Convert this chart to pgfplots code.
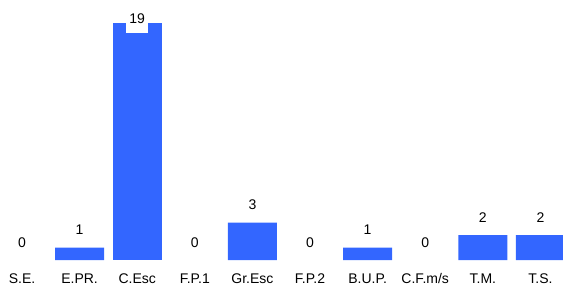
\documentclass[border=0pt]{standalone}
\usepackage{pgfplots}
\pgfplotsset{compat=1.18}
\usepackage{fontspec}
\setmainfont{Liberation Sans}
\definecolor{barblue}{HTML}{3366FF}
\begin{document}
\begin{tikzpicture}
\begin{axis}[
 scale only axis, width=563pt, height=285pt,
 xmin=-0.382, xmax=9.392, ymin=-2, ymax=20.8,
 axis line style={draw=none}, tick style={draw=none},
 ytick=\empty,
 xtick={0,...,9},
 xticklabels={S.E.,E.PR.,C.Esc,F.P.1,Gr.Esc,F.P.2,B.U.P.,C.F.m/s,T.M.,T.S.},
 xticklabel style={anchor=base, yshift=6pt, inner sep=0pt, font=\fontsize{14}{16}\selectfont},
 /pgf/number format/assume math mode=true,
 ybar, bar width=49pt, bar shift=0pt,
 nodes near coords,
 every node near coord/.append style={anchor=base, inner sep=0pt, yshift=12.7pt, font=\fontsize{14}{16}\selectfont, text=black},
]
\addplot[fill=barblue, draw=none] coordinates {(1,1) (4,3) (6,1) (8,2) (9,2)};
\addplot[fill=none, draw=none] coordinates {(0,0) (3,0) (5,0) (7,0)};
\addplot[fill=barblue, draw=none, every node near coord/.append style={fill=white, yshift=-13.7pt, inner xsep=3.2pt, inner ysep=9pt}] coordinates {(2,19)};
\end{axis}
\pgfresetboundingbox
\path (current axis.south west) rectangle (current axis.north east);
\end{tikzpicture}
\end{document}
